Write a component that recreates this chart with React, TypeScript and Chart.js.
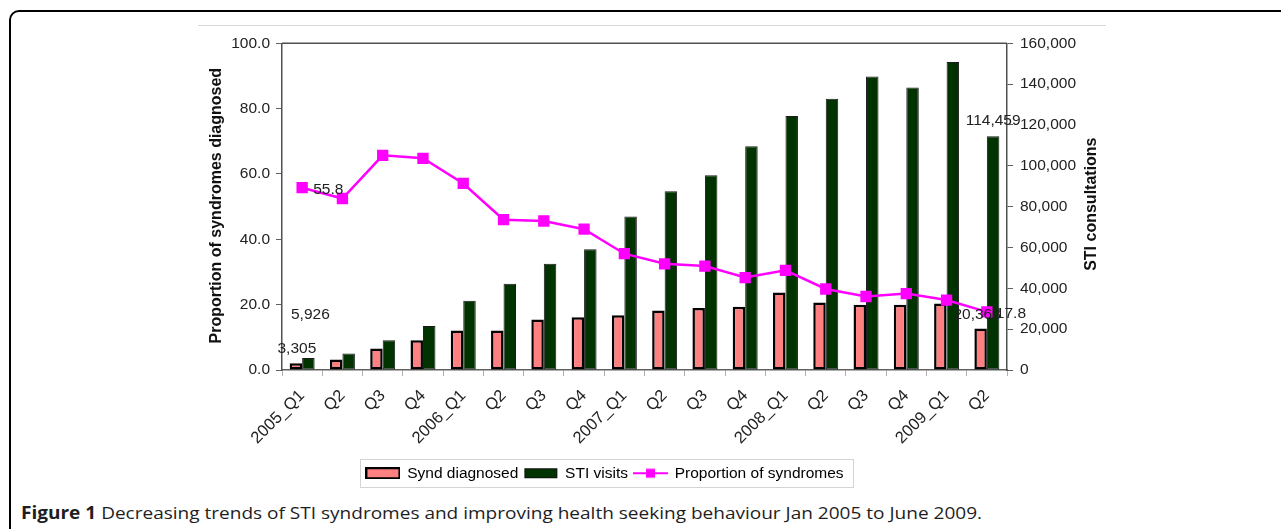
import React, { useEffect, useLayoutEffect, useRef } from 'react';
import { Chart, registerables } from 'chart.js';

Chart.register(...registerables);

const CATEGORIES = ['2005_Q1', 'Q2', 'Q3', 'Q4', '2006_Q1', 'Q2', 'Q3', 'Q4', '2007_Q1', 'Q2', 'Q3', 'Q4', '2008_Q1', 'Q2', 'Q3', 'Q4', '2009_Q1', 'Q2'];
const SYND_DIAGNOSED = [3305, 5180, 10500, 14550, 19400, 19400, 24700, 25850, 26800, 29100, 30400, 31000, 37970, 33100, 32000, 32000, 32600, 20363];
const STI_VISITS = [5926, 8100, 14545, 21500, 33940, 42300, 52000, 59150, 75150, 87600, 95350, 109600, 124450, 132850, 143700, 138350, 150800, 114459];
const PROPORTION = [55.8, 52.5, 65.7, 64.8, 57.1, 46.0, 45.6, 43.1, 35.6, 32.5, 31.8, 28.3, 30.5, 24.8, 22.5, 23.4, 21.4, 17.8];
const SERIES_NAMES = ['Synd diagnosed', 'STI visits', 'Proportion of syndromes'];
const LEFT_AXIS_TITLE = 'Proportion of syndromes diagnosed';
const RIGHT_AXIS_TITLE = 'STI consultations';
const LEFT_AXIS = { min: 0, max: 100, step: 20 };
const RIGHT_AXIS = { min: 0, max: 160000, step: 20000 };
const LABELLED_INDICES = [0, 17];
const CAPTION_BOLD = 'Figure 1';
const CAPTION_TEXT = 'Decreasing trends of STI syndromes and improving health seeking behaviour Jan 2005 to June 2009.';

const PINK = '#FF8080';
const GREEN = '#003300';
const MAGENTA = '#FF00FF';
const FONT = '"Liberation Sans", Arial, Helvetica, sans-serif';
const TICK_SIZE = 15.5;

function makeSwatch(kind: number): HTMLCanvasElement {
  const c = document.createElement('canvas');
  c.width = 35;
  c.height = 12;
  const g = c.getContext('2d')!;
  if (kind === 0) {
    g.fillStyle = PINK;
    g.fillRect(1, 1, 33, 10);
    g.strokeStyle = '#000';
    g.lineWidth = 2;
    g.strokeRect(1, 1, 33, 10);
  } else if (kind === 1) {
    g.fillStyle = GREEN;
    g.fillRect(1, 1, 33, 10);
    g.strokeStyle = '#111';
    g.lineWidth = 1;
    g.strokeRect(1.5, 1.5, 32, 9);
  } else {
    g.strokeStyle = MAGENTA;
    g.lineWidth = 2;
    g.beginPath();
    g.moveTo(0, 6);
    g.lineTo(35, 6);
    g.stroke();
    g.fillStyle = MAGENTA;
    g.fillRect(13, 1.5, 9, 9);
  }
  return c;
}

const fmtInt = (v: number) => Number(v).toLocaleString('en-US');

const valueLabels = {
  id: 'valueLabels',
  afterDatasetsDraw(chart: any) {
    const ctx = chart.ctx;
    ctx.save();
    ctx.font = `${TICK_SIZE}px ${FONT}`;
    ctx.fillStyle = '#222';
    ctx.textBaseline = 'middle';
    const specs = [
      { ds: 0, offs: [[1, -15], [-3.5, -14]], align: 'center', fmt: fmtInt },
      { ds: 1, offs: [[2, -43], [0, -16]], align: 'center', fmt: fmtInt },
      { ds: 2, offs: [[11, 2], [9, 2]], align: 'left', fmt: (v: number) => v.toFixed(1) },
    ];
    specs.forEach((s) => {
      const meta = chart.getDatasetMeta(s.ds);
      const data = chart.data.datasets[s.ds].data;
      LABELLED_INDICES.forEach((idx, k) => {
        const el = meta.data[idx];
        if (!el) return;
        ctx.textAlign = s.align;
        ctx.fillText(s.fmt(data[idx]), el.x + s.offs[k][0], el.y + s.offs[k][1]);
      });
    });
    ctx.restore();
  },
};

const decorations = {
  id: 'decorations',
  afterDraw(chart: any) {
    const ctx = chart.ctx;
    const a = chart.chartArea;
    ctx.save();
    ctx.strokeStyle = '#505050';
    ctx.lineWidth = 1.5;
    ctx.beginPath();
    ctx.moveTo(a.left, a.top);
    ctx.lineTo(a.right, a.top);
    ctx.stroke();

    ctx.fillStyle = '#111';
    ctx.font = `bold 16px ${FONT}`;
    ctx.textAlign = 'center';
    ctx.textBaseline = 'middle';
    const cy = (a.top + a.bottom) / 2;
    ctx.save();
    ctx.translate(a.left - 65, cy - 1);
    ctx.rotate(-Math.PI / 2);
    ctx.fillText(LEFT_AXIS_TITLE, 0, 0);
    ctx.restore();
    ctx.save();
    ctx.translate(a.right + 85, cy - 2.5);
    ctx.rotate(-Math.PI / 2);
    ctx.fillText(RIGHT_AXIS_TITLE, 0, 0);
    ctx.restore();

    const lg = chart.legend;
    if (lg && lg.legendHitBoxes && lg.legendHitBoxes.length) {
      const hb = lg.legendHitBoxes;
      const l = Math.min(...hb.map((h: any) => h.left)) - 6;
      const r = Math.max(...hb.map((h: any) => h.left + h.width)) + 10;
      const my = hb[0].top + hb[0].height / 2;
      ctx.strokeStyle = '#d4d4d4';
      ctx.lineWidth = 1;
      ctx.strokeRect(Math.round(l) + 0.5, Math.round(my - 14) + 0.5, Math.round(r - l), 28);
    }
    ctx.restore();
  },
};

export default function App() {
  const canvasRef = useRef<HTMLCanvasElement>(null);
  const capRef = useRef<HTMLDivElement>(null);

  useEffect(() => {
    const canvas = canvasRef.current!;
    Chart.defaults.font.family = FONT;
    Chart.defaults.color = '#222';
    const swatches = [makeSwatch(0), makeSwatch(1), makeSwatch(2)];
    const chart = new Chart(canvas, {
      type: 'bar',
      data: {
        labels: CATEGORIES,
        datasets: [
          {
            type: 'bar',
            label: SERIES_NAMES[0],
            data: SYND_DIAGNOSED,
            yAxisID: 'y1',
            backgroundColor: PINK,
            borderColor: '#000',
            borderWidth: 2.5,
            borderSkipped: false,
            order: 1,
            categoryPercentage: 0.62,
            barPercentage: 1,
          },
          {
            type: 'bar',
            label: SERIES_NAMES[1],
            data: STI_VISITS,
            yAxisID: 'y1',
            backgroundColor: GREEN,
            borderColor: '#1a1a1a',
            borderWidth: 1,
            borderSkipped: false,
            order: 2,
            categoryPercentage: 0.62,
            barPercentage: 1,
          },
          {
            type: 'line',
            label: SERIES_NAMES[2],
            data: PROPORTION,
            yAxisID: 'y',
            borderColor: MAGENTA,
            backgroundColor: MAGENTA,
            borderWidth: 2.5,
            pointStyle: 'rect',
            pointRadius: 8,
            pointBorderWidth: 0,
            pointBackgroundColor: MAGENTA,
            tension: 0,
            order: 0,
          },
        ],
      } as any,
      options: {
        animation: false,
        responsive: true,
        maintainAspectRatio: false,
        layout: { padding: { top: 13, left: 0, right: 0, bottom: 0 } },
        scales: {
          x: {
            offset: true,
            grid: { offset: true, drawOnChartArea: false, drawTicks: true, tickLength: 6, color: '#b0b0b0', lineWidth: 1 },
            border: { display: true, color: '#606060', width: 1.5 },
            ticks: { autoSkip: false, minRotation: 45, maxRotation: 45, font: { size: 16.5 }, color: '#222', padding: 10 },
            afterFit: (s: any) => { s.height = 89.5; },
          },
          y: {
            position: 'left',
            min: LEFT_AXIS.min,
            max: LEFT_AXIS.max,
            ticks: { stepSize: LEFT_AXIS.step, callback: (v: any) => Number(v).toFixed(1), font: { size: TICK_SIZE }, color: '#222', padding: 6 },
            grid: { drawOnChartArea: false, tickLength: 6, color: '#606060' },
            border: { display: true, color: '#505050', width: 1.5 },
            afterFit: (s: any) => { s.width = 177; },
          },
          y1: {
            position: 'right',
            min: RIGHT_AXIS.min,
            max: RIGHT_AXIS.max,
            ticks: { stepSize: RIGHT_AXIS.step, callback: (v: any) => fmtInt(v), font: { size: TICK_SIZE }, color: '#222', padding: 7 },
            grid: { drawOnChartArea: false, tickLength: 6, color: '#606060' },
            border: { display: true, color: '#505050', width: 1.5 },
            afterFit: (s: any) => { s.width = 98; },
          },
        },
        plugins: {
          legend: {
            position: 'bottom',
            labels: {
              usePointStyle: true,
              pointStyleWidth: 33,
              boxHeight: 12,
              padding: 6,
              font: { size: TICK_SIZE },
              color: '#000',
              generateLabels: (c: any) =>
                c.data.datasets.map((ds: any, i: number) => ({
                  text: ds.label,
                  pointStyle: swatches[i],
                  fillStyle: 'rgba(0,0,0,0)',
                  strokeStyle: 'rgba(0,0,0,0)',
                  lineWidth: 0,
                  hidden: false,
                  datasetIndex: i,
                })),
            },
          },
          tooltip: { enabled: false },
        },
      } as any,
      plugins: [valueLabels, decorations],
    });
    return () => chart.destroy();
  }, []);

  useLayoutEffect(() => {
    const fit = () => {
      const el = capRef.current;
      if (!el) return;
      el.style.transform = 'none';
      const w = el.getBoundingClientRect().width;
      if (w > 0) el.style.transform = `scaleX(${961 / w})`;
    };
    fit();
    if ((document as any).fonts && (document as any).fonts.ready) {
      (document as any).fonts.ready.then(fit);
    }
  }, []);

  return (
    <div style={{ position: 'fixed', left: 0, top: 0, width: 1281, height: 529, overflow: 'hidden', background: '#fff' }}>
      <div
        style={{
          position: 'absolute',
          left: 9,
          top: 10,
          width: 1330,
          height: 620,
          border: '2px solid #000',
          borderRadius: 10,
          boxSizing: 'border-box',
        }}
      />
      <div style={{ position: 'absolute', left: 198, top: 25, width: 908, height: 1, background: '#d8d8d8' }} />
      <div style={{ position: 'absolute', left: 105, top: 27, width: 1000, height: 464 }}>
        <canvas ref={canvasRef} />
      </div>
      <div
        ref={capRef}
        style={{
          position: 'absolute',
          left: 21,
          top: 503,
          whiteSpace: 'nowrap',
          fontFamily: '"Open Sans", "Noto Sans", sans-serif',
          fontSize: 17,
          lineHeight: '20px',
          color: '#1e1e1e',
          transformOrigin: 'left center',
        }}
      >
        <b>{CAPTION_BOLD}</b> {CAPTION_TEXT}
      </div>
    </div>
  );
}
